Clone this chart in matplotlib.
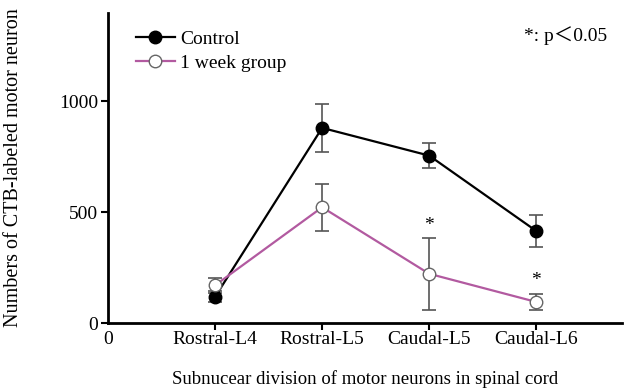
import matplotlib
matplotlib.use("Agg")
import matplotlib.pyplot as plt
import numpy as np

categories = ["Rostral-L4", "Rostral-L5", "Caudal-L5", "Caudal-L6"]
control_mean = [118, 880, 755, 415]
control_err = [25, 110, 55, 70]
week_mean = [170, 522, 222, 95]
week_err = [35, 105, 163, 38]
sig_idx = [2, 3]
sig_y = [440, 190]

plt.rcParams['font.family'] = ['Liberation Serif', 'Noto Sans CJK SC']

fig = plt.figure(figsize=(6.26, 3.88), dpi=100)
ax = fig.add_axes([0.1725, 0.1675, 0.821, 0.80])

x = np.arange(1, len(categories) + 1)

ax.errorbar(x, control_mean, yerr=control_err, fmt='none', ecolor='#555555',
            elinewidth=1.2, capsize=5, capthick=1.2, zorder=2)
ax.errorbar(x, week_mean, yerr=week_err, fmt='none', ecolor='#555555',
            elinewidth=1.2, capsize=5, capthick=1.2, zorder=2)

ax.plot(x, control_mean, color='black', lw=1.6, marker='o', ms=9,
        mfc='black', mec='black', label='Control', zorder=3)
ax.plot(x, week_mean, color='#b25aa0', lw=1.6, marker='o', ms=9,
        mfc='white', mec='#666666', mew=1.0, label='1 week group', zorder=4)

for i, yy in zip(sig_idx, sig_y):
    ax.text(x[i], yy, '*', ha='center', va='center', fontsize=14)

ax.text(4.66, 1295, '*: p＜0.05', ha='right', va='center', fontsize=14)

ax.set_xlim(0, 4.8)
ax.set_ylim(0, 1400)
ax.set_xticks([0] + list(x))
ax.set_xticklabels(['0'] + categories, fontsize=14)
ax.set_yticks([0, 500, 1000])
ax.tick_params(axis='y', labelsize=14, width=1.5, length=5, pad=2)
ax.tick_params(axis='x', width=1.5, length=5, pad=1)
ax.xaxis.get_major_ticks()[0].tick1line.set_visible(False)

for s in ['top', 'right']:
    ax.spines[s].set_visible(False)
for s in ['left', 'bottom']:
    ax.spines[s].set_linewidth(2)

ax.set_ylabel('Numbers of CTB-labeled motor neuron', fontsize=14.5, labelpad=20)
ax.yaxis.set_label_coords(-0.165, 0.5)
ax.set_xlabel('Subnucear division of motor neurons in spinal cord', fontsize=13.5, labelpad=16)

ax.legend(loc='upper left', bbox_to_anchor=(0.02, 1.0), frameon=False, fontsize=14,
          handlelength=2.0, handletextpad=0.3, labelspacing=0.35)

fig.savefig('out.png', dpi=100)
